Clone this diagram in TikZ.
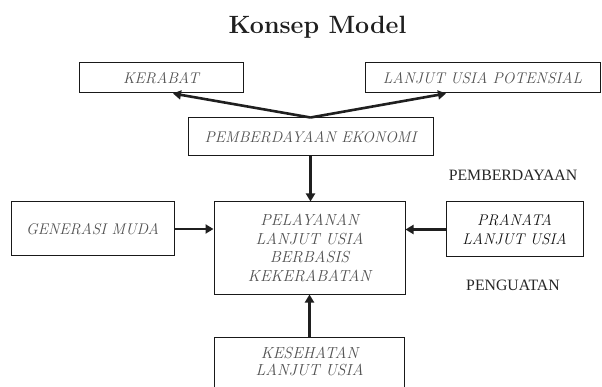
\documentclass[tikz,border=0pt]{standalone}
\usepackage{fontspec}
\newfontfamily\lblfont{Liberation Serif}
\usetikzlibrary{arrows.meta}
\begin{document}
\begin{tikzpicture}[x=1pt,y=-1pt,
  box/.style={draw=black!90, line width=1pt, rectangle, inner sep=0pt},
  btxt/.style={font=\fontsize{15.5}{18.7}\selectfont\itshape, text=black!68, align=center, inner sep=0pt},
  lbl/.style={font=\lblfont\fontsize{15.8}{18}\selectfont, text=black!85, inner sep=0pt},
  arr/.style={line width=2.6pt, draw=black!88, -{Triangle[length=8pt,width=9pt]}}
]
\clip (0,0) rectangle (602,387);
\fill[white] (0,0) rectangle (602,387);

% title
\node[anchor=base, inner sep=0pt, font=\fontsize{25}{30}\selectfont\bfseries, text=black!88] (title) at (317.5,34) {Konsep Model};

% boxes
\node[box, minimum width=164pt, minimum height=30pt, btxt] (ker) at (161,78) {KERABAT};
\node[box, minimum width=235pt, minimum height=30pt, btxt] (lp) at (482.5,78) {LANJUT USIA POTENSIAL};
\node[box, minimum width=245pt, minimum height=38pt, btxt] (pe) at (310.5,137) {PEMBERDAYAAN EKONOMI};
\node[box, minimum width=163pt, minimum height=54pt, btxt] (gm) at (92.5,229) {GENERASI MUDA};
\node[box, minimum width=191pt, minimum height=92pt, btxt, font=\fontsize{16}{18.7}\selectfont\itshape] (cb) at (309.5,248) {PELAYANAN\\LANJUT USIA\\BERBASIS\\KEKERABATAN};
\node[box, minimum width=137pt, minimum height=55pt, btxt, text=black!92] (pr) at (514.5,229.5) {PRANATA\\LANJUT USIA};
\node[box, minimum width=190pt, minimum height=70pt, anchor=north] (ks) at (309.5,337) {};
\node[btxt, font=\fontsize{16}{17.5}\selectfont\itshape] (kst) at (309.5,361.5) {KESEHATAN\\LANJUT USIA};

% side labels
\node[lbl] (lpem) at (513,175) {PEMBERDAYAAN};
\node[lbl] (lpen) at (513,285) {PENGUATAN};

% connectors
\draw[arr] (pe.north) -- ([xshift=12pt]ker.south);
\draw[arr] (pe.north) -- ([xshift=-36.5pt]lp.south);
\draw[arr] (pe.south) -- (pe.south |- cb.north);
\draw[arr] (gm.east) -- (gm.east -| cb.west);
\draw[arr] (pr.west) -- (pr.west -| cb.east);
\draw[arr] (ks.north) -- (cb.south);
\end{tikzpicture}
\end{document}
